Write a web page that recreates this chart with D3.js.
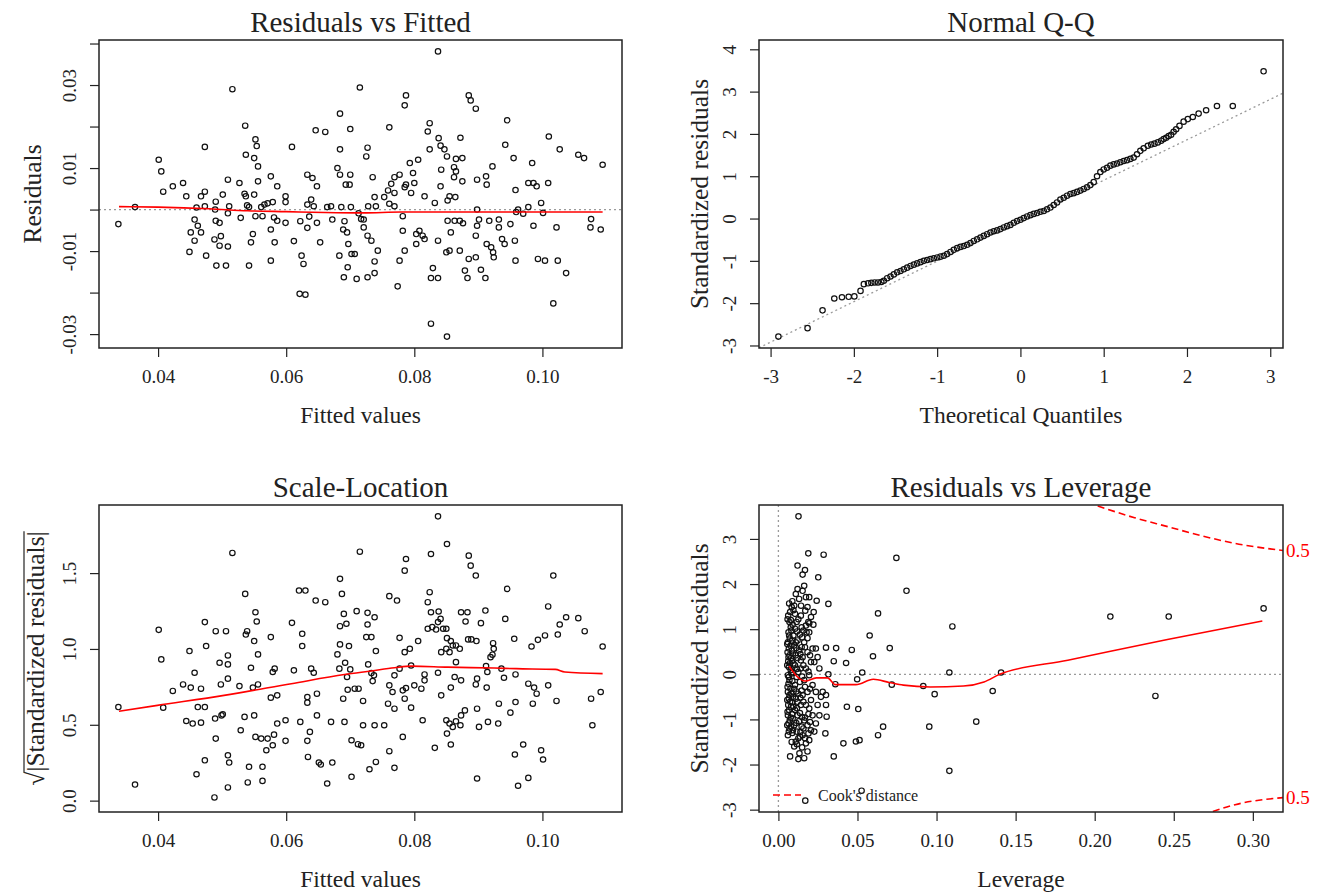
<!DOCTYPE html>
<html>
<head>
<meta charset="utf-8">
<script src="https://cdn.jsdelivr.net/npm/d3@7"></script>
<style>
  body { margin: 0; background: #fff; overflow: hidden; }
  svg { font-family: "Liberation Serif", "Times New Roman", serif; }
</style>
</head>
<body>
<div id="chart"></div>
<script>
// ---- data ----

// Residuals vs Fitted: [fitted value, residual]
var residVsFitted = [
  [0.0338,-0.0035],[0.0364,0.0006],[0.0401,0.0120],[0.0405,0.0092],[0.0408,0.0043],[0.0423,0.0056],[0.0439,0.0064],[0.0444,0.0032],
  [0.0449,-0.0102],[0.0451,-0.0055],[0.0457,-0.0024],[0.0457,-0.0075],[0.0462,-0.0039],[0.0467,-0.0055],[0.0460,0.0005],[0.0467,0.0032],
  [0.0473,0.0043],[0.0473,0.0151],[0.0473,0.0008],[0.0475,-0.0111],[0.0488,-0.0072],[0.0490,0.0019],[0.0489,0.0000],[0.0490,-0.0027],
  [0.0496,-0.0032],[0.0491,-0.0135],[0.0496,-0.0087],[0.0498,-0.0064],[0.0501,0.0036],[0.0506,-0.0135],[0.0509,0.0072],[0.0509,-0.0089],
  [0.0509,-0.0009],[0.0511,0.0008],[0.0516,0.0290],[0.0527,0.0064],[0.0529,-0.0020],[0.0535,0.0038],[0.0537,0.0032],[0.0536,0.0202],
  [0.0537,0.0132],[0.0539,0.0010],[0.0542,0.0006],[0.0542,-0.0135],[0.0545,-0.0079],[0.0548,-0.0059],[0.0550,0.0124],[0.0550,0.0036],
  [0.0552,0.0169],[0.0554,0.0153],[0.0556,0.0104],[0.0556,0.0068],[0.0552,-0.0016],[0.0561,0.0006],[0.0563,-0.0016],[0.0566,0.0012],
  [0.0571,0.0015],[0.0576,0.0080],[0.0576,-0.0048],[0.0576,-0.0123],[0.0579,0.0018],[0.0581,-0.0019],[0.0582,-0.0079],[0.0586,0.0056],
  [0.0586,-0.0027],[0.0599,0.0032],[0.0599,0.0018],[0.0599,-0.0032],[0.0609,0.0151],[0.0612,-0.0076],[0.0622,-0.0028],[0.0621,-0.0203],
  [0.0624,-0.0111],[0.0627,-0.0131],[0.0630,-0.0205],[0.0633,-0.0044],[0.0633,0.0084],[0.0633,0.0012],[0.0636,-0.0017],[0.0641,0.0076],
  [0.0639,0.0024],[0.0643,0.0008],[0.0648,0.0056],[0.0648,-0.0032],[0.0653,-0.0079],[0.0646,0.0191],[0.0661,0.0187],[0.0664,0.0006],
  [0.0670,0.0008],[0.0672,-0.0024],[0.0680,0.0100],[0.0684,0.0084],[0.0684,0.0231],[0.0684,0.0145],[0.0683,-0.0111],[0.0686,0.0006],
  [0.0689,-0.0048],[0.0690,-0.0163],[0.0691,-0.0028],[0.0693,0.0060],[0.0695,-0.0055],[0.0696,-0.0139],[0.0699,0.0060],[0.0700,0.0084],
  [0.0700,0.0194],[0.0701,0.0006],[0.0702,-0.0107],[0.0707,-0.0107],[0.0710,-0.0167],[0.0715,0.0294],[0.0713,-0.0009],[0.0717,-0.0023],
  [0.0697,-0.0083],
  [0.0727,0.0149],[0.0725,0.0128],[0.0735,0.0078],[0.0721,-0.0024],[0.0721,-0.0043],[0.0728,0.0008],[0.0738,0.0030],[0.0740,0.0008],
  [0.0727,-0.0063],[0.0733,-0.0075],[0.0743,-0.0099],[0.0738,-0.0125],[0.0738,-0.0153],[0.0727,-0.0163],[0.0761,0.0198],[0.0753,0.0030],
  [0.0759,0.0046],[0.0764,0.0062],[0.0769,0.0078],[0.0761,0.0014],[0.0769,0.0008],[0.0777,0.0084],[0.0769,0.0040],[0.0782,-0.0016],
  [0.0782,-0.0051],[0.0785,-0.0099],[0.0777,-0.0123],[0.0774,-0.0185],[0.0785,0.0251],[0.0787,0.0275],[0.0785,0.0054],[0.0787,0.0060],
  [0.0793,0.0112],[0.0795,0.0040],[0.0798,0.0088],[0.0800,0.0064],[0.0806,0.0120],[0.0803,-0.0059],[0.0803,-0.0083],[0.0808,-0.0051],
  [0.0813,-0.0063],[0.0816,-0.0071],[0.0816,0.0032],[0.0821,0.0188],[0.0824,0.0208],[0.0824,0.0145],[0.0826,-0.0275],[0.0829,-0.0141],
  [0.0826,-0.0165],[0.0837,-0.0165],[0.0832,0.0016],[0.0837,-0.0075],[0.0838,0.0172],[0.0841,0.0154],[0.0842,0.0096],[0.0841,0.0056],
  [0.0847,0.0145],[0.0851,0.0128],[0.0852,0.0022],[0.0855,0.0032],[0.0851,-0.0306],[0.0850,-0.0103],[0.0855,-0.0099],[0.0857,-0.0055],
  [0.0862,0.0102],[0.0862,0.0078],[0.0865,0.0122],[0.0865,0.0092],[0.0864,0.0030],[0.0871,-0.0099],[0.0872,0.0173],[0.0875,0.0124],
  [0.0875,0.0068],[0.0852,-0.0027],[0.0863,-0.0027],[0.0871,-0.0027],[0.0876,-0.0033],[0.0879,-0.0147],[0.0883,-0.0165],[0.0885,-0.0119],
  [0.0885,0.0275],[0.0888,0.0263],[0.0896,0.0243],[0.0896,-0.0115],[0.0896,-0.0063],[0.0898,0.0072],[0.0898,0.0000],[0.0901,-0.0024],
  [0.0898,-0.0039],[0.0904,-0.0145],[0.0911,-0.0165],[0.0912,0.0080],[0.0913,0.0060],[0.0917,-0.0027],[0.0913,-0.0083],[0.0920,-0.0091],
  [0.0923,-0.0103],[0.0924,-0.0115],[0.0922,0.0104],[0.0932,-0.0024],[0.0932,-0.0043],[0.0937,-0.0071],[0.0941,-0.0083],[0.0942,0.0156],
  [0.0945,0.0215],[0.0950,-0.0035],[0.0955,0.0124],[0.0958,0.0047],[0.0957,-0.0075],[0.0958,-0.0123],[0.0959,-0.0006],[0.0962,0.0000],
  [0.0970,-0.0010],[0.0978,0.0064],[0.0978,0.0006],[0.0984,0.0112],[0.0986,0.0064],[0.0991,0.0056],[0.0986,-0.0039],[0.0993,-0.0119],
  [0.1004,-0.0123],[0.0998,0.0016],[0.1001,-0.0008],[0.1009,0.0064],[0.1010,0.0176],[0.1017,-0.0226],[0.1022,-0.0043],[0.1024,-0.0123],
  [0.1027,0.0145],[0.1037,-0.0153],[0.1056,0.0132],[0.1065,0.0124],[0.1076,-0.0023],[0.1075,-0.0043],[0.1091,-0.0048],[0.1094,0.0108],
  [0.0837,0.0381]
];
var residSmoothX = [0.0339,0.040,0.048,0.054,0.060,0.066,0.072,0.078,0.085,0.095,0.1094];
var residSmoothY = [0.0007,0.0006,0.0002,-0.0003,-0.0005,-0.0007,-0.0008,-0.0006,-0.0006,-0.0006,-0.0006];

// Normal Q-Q: theoretical quantile / standardized residual
var qqTheo = [-2.906,-2.556,-2.376,-2.235,-2.143,-2.062,-1.994,-1.920,-1.880,-1.830,-1.790,-1.750,-1.710,-1.670,-1.640,
  -1.60,-1.56,-1.52,-1.48,-1.44,-1.40,-1.36,-1.32,-1.28,-1.24,-1.20,-1.16,-1.12,-1.08,-1.04,-1.00,-0.96,-0.92,-0.88,-0.84,
  -0.80,-0.76,-0.72,-0.68,-0.64,-0.60,-0.56,-0.52,-0.48,-0.44,-0.40,-0.36,-0.32,-0.28,-0.24,-0.20,-0.16,-0.12,-0.08,-0.04,
  0.00,0.04,0.08,0.12,0.16,0.20,0.24,0.28,0.32,0.36,0.40,0.44,0.48,0.52,0.56,0.60,0.64,0.68,0.72,0.76,0.80,0.84,0.88,0.92,
  0.96,1.00,1.04,1.08,1.12,1.16,1.20,1.24,1.28,1.32,1.36,1.40,1.44,1.48,1.53,1.57,1.61,1.65,1.69,1.72,1.75,1.78,1.81,1.84,
  1.87,1.91,1.96,2.01,2.07,2.14,2.23,2.36,2.55,2.92];
var qqStd = [-2.79,-2.59,-2.17,-1.89,-1.86,-1.85,-1.84,-1.71,-1.55,-1.53,-1.52,-1.51,-1.51,-1.50,-1.47,
  -1.41,-1.37,-1.32,-1.27,-1.24,-1.20,-1.16,-1.12,-1.09,-1.06,-1.03,-1.00,-0.98,-0.96,-0.94,-0.92,-0.90,-0.88,-0.84,-0.79,
  -0.74,-0.70,-0.67,-0.65,-0.62,-0.58,-0.53,-0.49,-0.45,-0.41,-0.37,-0.33,-0.30,-0.28,-0.25,-0.21,-0.18,-0.15,-0.10,-0.06,
  -0.03,0.01,0.05,0.08,0.11,0.13,0.16,0.18,0.22,0.26,0.32,0.38,0.45,0.49,0.54,0.58,0.60,0.63,0.66,0.70,0.74,0.79,0.86,1.00,
  1.10,1.16,1.20,1.25,1.28,1.30,1.33,1.36,1.38,1.41,1.44,1.52,1.60,1.66,1.72,1.75,1.77,1.80,1.84,1.88,1.91,1.95,1.98,2.05,
  2.11,2.19,2.29,2.35,2.40,2.48,2.56,2.66,2.66,3.48];
var qqLineX = [-3.14, 3.17];
var qqLineY = [-3.055, 2.98];

// Scale-Location: [fitted value, sqrt(|standardized residual|)]
var scaleLocation = [
  [0.0338,0.617],[0.0364,0.106],[0.0401,1.126],[0.0405,0.931],[0.0408,0.613],[0.0423,0.723],[0.0439,0.766],[0.0449,0.986],[0.0444,0.525],
  [0.0451,0.745],[0.0457,0.843],[0.0454,0.508],[0.0460,0.174],[0.0462,0.617],[0.0467,0.514],[0.0467,0.738],[0.0473,1.177],[0.0473,0.266],
  [0.0475,1.019],[0.0473,0.617],[0.0488,0.021],[0.0490,1.117],[0.0489,0.541],[0.0490,0.409],[0.0496,0.909],[0.0498,0.766],[0.0499,0.562],
  [0.0501,0.569],[0.0506,1.117],[0.0509,0.957],[0.0509,0.898],[0.0509,0.804],[0.0509,0.299],[0.0511,0.251],[0.0509,0.087],[0.0516,1.633],
  [0.0527,0.755],[0.0529,0.464],[0.0535,0.552],[0.0536,1.363],[0.0537,1.095],[0.0539,1.117],[0.0542,0.223],[0.0540,0.120],[0.0545,0.876],
  [0.0548,0.745],[0.0550,0.562],[0.0550,1.052],[0.0552,1.242],[0.0554,1.181],[0.0556,0.964],[0.0556,0.766],[0.0552,0.420],[0.0561,0.409],
  [0.0563,0.223],[0.0563,0.130],[0.0569,0.332],[0.0571,0.409],[0.0576,0.679],[0.0576,1.078],[0.0579,0.848],[0.0582,0.870],[0.0579,0.365],
  [0.0581,0.435],[0.0586,0.694],[0.0586,0.508],[0.0599,0.530],[0.0599,0.394],[0.0609,1.172],[0.0612,0.859],[0.0622,0.519],[0.0625,1.100],
  [0.0625,1.019],[0.0620,1.385],[0.0630,1.385],[0.0633,0.683],[0.0633,0.646],[0.0633,0.394],[0.0634,0.288],[0.0637,0.453],[0.0639,0.870],
  [0.0643,0.843],[0.0648,0.705],[0.0648,0.562],[0.0646,1.319],[0.0661,1.308],[0.0651,0.251],[0.0654,0.238],[0.0664,0.113],[0.0670,0.519],
  [0.0672,0.251],[0.0680,0.964],[0.0684,1.030],[0.0684,1.462],[0.0684,1.150],[0.0683,0.870],[0.0687,1.363],[0.0690,1.231],[0.0689,0.672],
  [0.0691,0.519],[0.0692,0.909],[0.0694,1.166],[0.0695,0.815],[0.0698,1.019],[0.0696,0.731],[0.0700,0.865],[0.0702,0.398],[0.0702,0.157],
  [0.0707,0.738],[0.0710,1.249],[0.0712,0.372],[0.0715,1.641],[0.0713,0.738],
  [0.0727,1.238],[0.0727,1.161],[0.0738,1.209],[0.0725,1.078],[0.0733,1.078],[0.0728,0.898],[0.0740,0.986],[0.0733,0.841],[0.0737,0.826],
  [0.0735,0.788],[0.0720,0.657],[0.0720,0.497],[0.0738,0.497],[0.0753,0.497],[0.0717,0.365],[0.0730,0.207],[0.0740,0.255],[0.0761,1.348],
  [0.0773,1.319],[0.0785,1.516],[0.0787,1.593],[0.0777,1.073],[0.0785,0.979],[0.0793,1.001],[0.0769,0.826],[0.0777,0.870],[0.0795,0.891],
  [0.0806,1.052],[0.0761,0.760],[0.0766,0.716],[0.0782,0.727],[0.0785,0.672],[0.0787,0.742],[0.0800,0.760],[0.0811,0.738],[0.0759,0.639],
  [0.0769,0.606],[0.0795,0.613],[0.0782,0.420],[0.0761,0.326],[0.0769,0.216],[0.0816,0.832],[0.0816,0.793],[0.0813,0.530],[0.0821,1.308],
  [0.0824,1.374],[0.0826,1.626],[0.0821,1.133],[0.0826,1.242],[0.0828,1.144],[0.0834,1.128],[0.0838,1.247],[0.0837,1.177],[0.0841,1.198],
  [0.0845,1.133],[0.0842,0.979],[0.0850,1.133],[0.0851,1.071],[0.0837,0.843],[0.0842,0.694],[0.0832,0.348],[0.0851,1.692],[0.0850,1.001],
  [0.0855,0.979],[0.0857,1.052],[0.0860,1.023],[0.0865,1.023],[0.0871,1.001],[0.0865,0.913],[0.0863,0.815],[0.0873,0.793],[0.0857,0.745],
  [0.0850,0.530],[0.0855,0.508],[0.0860,0.486],[0.0865,0.523],[0.0873,0.562],[0.0879,0.595],[0.0872,0.497],[0.0851,0.442],[0.0857,0.370],
  [0.0873,1.242],[0.0883,1.242],[0.0880,1.181],[0.0885,1.615],[0.0888,1.549],[0.0896,1.484],[0.0884,1.063],[0.0889,1.063],[0.0897,1.052],
  [0.0898,0.804],[0.0896,0.766],[0.0913,0.745],[0.0898,0.606],[0.0901,0.486],[0.0898,0.146],[0.0912,0.887],[0.0914,0.848],[0.0911,1.253],
  [0.0904,1.170],[0.0915,0.519],[0.0931,0.508],[0.0932,0.639],[0.0919,0.946],[0.0924,1.001],[0.0923,1.038],[0.0922,0.962],[0.0936,0.870],
  [0.0940,0.810],[0.0942,1.198],[0.0945,1.396],[0.0956,1.067],[0.0958,0.832],[0.0958,0.650],[0.0950,0.580],[0.0957,0.304],[0.0962,0.098],
  [0.0970,0.370],[0.0978,0.150],[0.0983,1.016],[0.0993,1.060],[0.1004,1.089],[0.0978,0.771],[0.0987,0.745],[0.0991,0.705],[0.0985,0.639],
  [0.1009,1.280],[0.1009,0.760],[0.1017,1.484],[0.1022,0.657],[0.1024,1.095],[0.1027,1.161],[0.1037,1.209],[0.1056,1.203],[0.1066,1.117],
  [0.1076,0.672],[0.1078,0.497],[0.1091,0.716],[0.1094,1.016],[0.0998,0.332],[0.1001,0.271],[0.0837,1.874]
];
var scaleSmoothX = [0.0339,0.0399,0.0503,0.0608,0.0691,0.0733,0.0769,0.0795,0.0852,0.0925,0.0959,0.1020,0.1035,0.1094];
var scaleSmoothY = [0.589,0.628,0.694,0.771,0.831,0.855,0.876,0.887,0.880,0.874,0.870,0.865,0.848,0.837];

// Residuals vs Leverage: [leverage, standardized residual]
var residVsLeverage = [
  [0.0127,3.50],[0.0189,2.68],[0.0286,2.65],[0.0121,2.41],[0.0168,2.31],[0.0153,2.21],[0.0252,2.15],[0.0746,2.58],[0.0810,1.85],
  [0.0195,1.71],[0.0242,1.63],[0.0316,1.56],[0.0170,1.41],[0.0223,1.38],[0.0630,1.35],[0.0189,1.16],[0.0221,1.10],[0.1100,1.06],
  [0.0178,0.93],[0.0577,0.86],[0.0301,0.59],[0.0365,0.58],[0.0464,0.54],[0.0704,0.58],[0.0598,0.40],[0.0350,0.29],[0.0428,0.25],
  [0.0316,0.00],[0.0530,0.04],[0.0498,-0.11],[0.0717,-0.23],[0.0916,-0.26],[0.0988,-0.44],[0.1081,0.04],[0.1408,0.04],[0.1355,-0.37],
  [0.0360,-0.22],[0.0301,-0.68],[0.0301,-0.46],[0.0280,-0.39],[0.0305,-0.94],[0.0433,-0.72],[0.0505,-0.77],[0.0297,-1.31],[0.0350,-1.82],
  [0.0411,-1.53],[0.0490,-1.49],[0.0513,-1.46],[0.0630,-1.35],[0.0662,-1.16],[0.0954,-1.16],[0.1251,-1.05],[0.1081,-2.14],[0.0170,-2.80],
  [0.0526,-2.58],[0.2099,1.28],[0.2468,1.28],[0.3068,1.46],[0.2384,-0.48],
  [0.0068,1.57],[0.0074,1.38],[0.0062,1.30],[0.0070,1.16],[0.0078,1.04],[0.0064,0.93],[0.0072,0.79],[0.0060,0.71],[0.0076,0.63],
  [0.0066,0.57],[0.0058,0.49],[0.0070,0.42],[0.0080,0.36],[0.0062,0.29],[0.0072,0.24],[0.0066,0.16],[0.0078,0.09],[0.0060,-0.02],
  [0.0070,-0.13],[0.0064,-0.21],[0.0076,-0.32],[0.0060,-0.39],[0.0070,-0.46],[0.0066,-0.54],[0.0074,-0.61],[0.0062,-0.68],[0.0068,-0.79],
  [0.0060,-0.91],[0.0072,-1.02],[0.0064,-1.09],[0.0070,-1.20],[0.0066,-1.27],[0.0074,-1.82],
  [0.0121,1.89],[0.0110,1.78],[0.0131,1.67],[0.0100,1.52],[0.0142,1.30],[0.0115,1.16],[0.0105,1.01],[0.0136,0.88],[0.0121,0.75],
  [0.0100,0.64],[0.0131,0.53],[0.0110,0.42],[0.0142,0.31],[0.0105,0.20],[0.0126,0.05],[0.0115,-0.06],[0.0136,-0.17],[0.0100,-0.32],
  [0.0126,-0.43],[0.0110,-0.54],[0.0142,-0.68],[0.0105,-0.79],[0.0121,-0.91],[0.0131,-1.04],[0.0100,-1.13],[0.0115,-1.27],[0.0136,-1.38],
  [0.0110,-1.49],[0.0126,-1.88],
  [0.0163,1.96],[0.0153,1.85],[0.0184,1.49],[0.0206,1.27],[0.0174,1.08],[0.0195,0.93],[0.0163,0.71],[0.0216,0.57],[0.0184,0.49],
  [0.0153,0.38],[0.0206,0.27],[0.0174,0.13],[0.0195,-0.02],[0.0163,-0.13],[0.0216,-0.24],[0.0184,-0.39],[0.0153,-0.46],[0.0206,-0.57],
  [0.0174,-0.68],[0.0195,-0.76],[0.0216,-0.91],[0.0163,-1.02],[0.0184,-1.13],[0.0206,-1.24],[0.0153,-1.35],[0.0195,-1.46],[0.0174,-1.53],
  [0.0184,-1.71],[0.0163,-1.86],
  [0.0237,0.57],[0.0248,0.38],[0.0227,0.27],[0.0259,0.13],[0.0237,-0.39],[0.0269,-0.50],[0.0248,-0.68],[0.0259,-0.91],[0.0237,-1.09],
  [0.0227,-1.27],
  [0.0084,1.49],[0.0058,1.22],[0.0082,0.97],[0.0068,0.86],[0.0056,0.67],[0.0084,0.53],[0.0064,0.38],[0.0056,0.20],[0.0082,0.02],
  [0.0066,-0.06],[0.0058,-0.28],[0.0082,-0.43],[0.0056,-0.57],[0.0080,-0.72],[0.0058,-0.83],[0.0078,-0.96],[0.0056,-1.13],[0.0080,-1.16],
  [0.0060,-1.35],[0.0084,-1.50],
  [0.0095,1.42],[0.0126,1.22],[0.0090,1.10],[0.0147,1.04],[0.0095,0.86],[0.0110,0.71],[0.0147,0.60],[0.0092,0.46],[0.0121,0.36],
  [0.0095,0.24],[0.0140,0.13],[0.0090,0.05],[0.0105,-0.24],[0.0147,-0.36],[0.0092,-0.50],[0.0121,-0.61],[0.0095,-0.72],[0.0136,-0.86],
  [0.0090,-0.98],[0.0147,-1.16],[0.0092,-1.24],[0.0126,-1.42],[0.0100,-1.60],
  [0.0174,1.71],[0.0195,1.13],[0.0158,0.97],[0.0184,0.80],[0.0168,0.60],[0.0200,0.42],[0.0158,0.20],[0.0190,0.06],[0.0168,-0.28],
  [0.0200,-0.32],[0.0158,-0.61],[0.0190,-0.88],[0.0168,-0.96],[0.0200,-1.06],[0.0158,-1.20],[0.0190,-1.31],[0.0168,-1.42],
  [0.0088,1.62],[0.0105,1.34],[0.0079,1.20],[0.0118,0.95],[0.0087,0.74],[0.0113,0.58],[0.0086,0.30],[0.0117,0.12],[0.0088,-0.15],
  [0.0113,-0.38],[0.0087,-0.62],[0.0117,-0.75],[0.0086,-0.88],[0.0113,-1.08],[0.0088,-1.30],[0.0117,-1.55],[0.0143,1.52],[0.0150,0.82],
  [0.0139,0.45],[0.0150,-0.05],[0.0139,-0.52],[0.0150,-0.95],[0.0139,-1.28],[0.0150,-1.62],[0.0133,-1.75]
];
var levSmoothX = [0.0068,0.011,0.017,0.024,0.031,0.036,0.049,0.060,0.070,0.079,0.096,0.117,0.130,0.140,0.183,0.210,0.246,0.306];
var levSmoothY = [0.18,-0.02,-0.15,-0.08,-0.08,-0.23,-0.23,-0.11,-0.18,-0.24,-0.28,-0.26,-0.17,0.00,0.31,0.51,0.77,1.18];
// Cook's distance 0.5 contours
var cookUpperX = [0.2019,0.2252,0.2464,0.2676,0.2888,0.3202];
var cookUpperY = [3.73,3.47,3.27,3.07,2.90,2.74];
var cookLowerX = [0.2747,0.2888,0.3202];
var cookLowerY = [-3.04,-2.89,-2.73];
var cookLevel = "0.5";

// ---- drawing ----
var svg = d3.select("#chart").append("svg")
    .attr("width", 1320)
    .attr("height", 893);

var ink = "#222";

// R style: data range stretched by 4% each side
function rRange(lo, hi) {
    var d = (hi - lo) * 0.04;
    return [lo - d, hi + d];
}

function zip(xs, ys) {
    return xs.map(function(v, i) { return [v, ys[i]]; });
}

var clipId = 0;

function panel(p) {
    var g = svg.append("g");
    var x = d3.scaleLinear().domain(p.xDomain).range([p.left, p.right]);
    var y = d3.scaleLinear().domain(p.yDomain).range([p.bottom, p.top]);

    clipId++;
    svg.append("clipPath").attr("id", "clip" + clipId)
        .append("rect")
        .attr("x", p.left).attr("y", p.top)
        .attr("width", p.right - p.left).attr("height", p.bottom - p.top);
    var inner = g.append("g").attr("clip-path", "url(#clip" + clipId + ")");

    // x axis
    var xa = g.append("g")
        .attr("transform", "translate(0," + p.bottom + ")")
        .call(d3.axisBottom(x).tickValues(p.xTicks).tickSize(9).tickFormat(p.xFormat));
    xa.select(".domain").remove();
    xa.selectAll("line").attr("stroke", ink).attr("stroke-width", 1.2);
    xa.selectAll("text")
        .attr("y", 28).attr("dy", "0.35em")
        .attr("fill", ink)
        .style("font-family", "Liberation Serif, serif")
        .style("font-size", "19px");

    // y axis, labels turned like R's las = 0
    var ya = g.append("g")
        .attr("transform", "translate(" + p.left + ",0)")
        .call(d3.axisLeft(y).tickValues(p.yTicks).tickSize(9).tickFormat(p.yFormat));
    ya.select(".domain").remove();
    ya.selectAll("line").attr("stroke", ink).attr("stroke-width", 1.2);
    ya.selectAll("text")
        .attr("x", null).attr("dy", "0.35em")
        .attr("text-anchor", "middle")
        .attr("transform", "translate(-30,0) rotate(-90)")
        .attr("fill", ink)
        .style("font-family", "Liberation Serif, serif")
        .style("font-size", "19px");

    // titles
    g.append("text")
        .attr("x", (p.left + p.right) / 2).attr("y", p.top - 18)
        .attr("dy", "0.35em").attr("text-anchor", "middle")
        .style("font-size", "29px").attr("fill", ink)
        .text(p.title);
    g.append("text")
        .attr("x", (p.left + p.right) / 2).attr("y", p.bottom + 67)
        .attr("dy", "0.35em").attr("text-anchor", "middle")
        .style("font-size", "23.5px").attr("fill", ink)
        .text(p.xTitle);
    var yt = g.append("text")
        .attr("transform", "translate(" + (p.left - p.yTitleOffset) + "," + ((p.top + p.bottom) / 2) + ") rotate(-90)")
        .attr("dy", "0.35em").attr("text-anchor", "middle")
        .style("font-size", "25.5px").attr("fill", ink);
    if (p.sqrtTitle) {
        yt.append("tspan").text("\u221A");
        yt.append("tspan").text(p.yTitle);
        var full = yt.node().getComputedTextLength();
        var rootLen = yt.node().getSubStringLength(0, 1);
        g.append("line")
            .attr("transform", "translate(" + (p.left - p.yTitleOffset) + "," + ((p.top + p.bottom) / 2) + ") rotate(-90)")
            .attr("x1", -full / 2 + rootLen - 1).attr("x2", full / 2)
            .attr("y1", -11).attr("y2", -11)
            .attr("stroke", ink).attr("stroke-width", 1.2);
    } else {
        yt.text(p.yTitle);
    }

    // box
    g.append("rect")
        .attr("x", p.left).attr("y", p.top)
        .attr("width", p.right - p.left).attr("height", p.bottom - p.top)
        .attr("fill", "none").attr("stroke", ink).attr("stroke-width", 1.5);

    return { g: g, inner: inner, x: x, y: y };
}

function dotted(layer, pts, x, y) {
    layer.append("path")
        .attr("d", d3.line().x(function(d) { return x(d[0]); }).y(function(d) { return y(d[1]); })(pts))
        .attr("fill", "none").attr("stroke", "#9a9a9a")
        .attr("stroke-width", 1.3).attr("stroke-dasharray", "2,3");
}

function circles(layer, pts, x, y) {
    layer.selectAll("circle.pt").data(pts).enter().append("circle")
        .attr("class", "pt")
        .attr("cx", function(d) { return x(d[0]); })
        .attr("cy", function(d) { return y(d[1]); })
        .attr("r", 2.7)
        .attr("fill", "none").attr("stroke", "#111").attr("stroke-width", 1.2);
}

function smooth(layer, pts, x, y) {
    layer.append("path")
        .attr("d", d3.line().curve(d3.curveMonotoneX)
            .x(function(d) { return x(d[0]); }).y(function(d) { return y(d[1]); })(pts))
        .attr("fill", "none").attr("stroke", "#ff0000").attr("stroke-width", 1.6);
}

var fmt2 = function(v) { return d3.format(".2f")(v).replace("\u2212", "-"); };
var fmtInt = function(v) { return String(v); };

// --- Residuals vs Fitted
var rvX = d3.extent(residVsFitted, function(d) { return d[0]; });
var rvY = d3.extent(residVsFitted, function(d) { return d[1]; });
var p1 = panel({
    left: 99, right: 622, top: 40, bottom: 348,
    xDomain: rRange(rvX[0], rvX[1]), yDomain: rRange(rvY[0], rvY[1]),
    xTicks: [0.04, 0.06, 0.08, 0.10], xFormat: fmt2,
    yTicks: [-0.03, -0.02, -0.01, 0, 0.01, 0.02, 0.03, 0.04],
    yFormat: function(v) { var k = Math.round(v * 100); return (k % 2 !== 0) ? (k < 0 ? "-" : "") + "0.0" + Math.abs(k) : ""; },
    title: "Residuals vs Fitted", xTitle: "Fitted values", yTitle: "Residuals", yTitleOffset: 67
});
dotted(p1.inner, [[p1.x.domain()[0], 0], [p1.x.domain()[1], 0]], p1.x, p1.y);
circles(p1.inner, residVsFitted, p1.x, p1.y);
smooth(p1.inner, zip(residSmoothX, residSmoothY), p1.x, p1.y);

// --- Normal Q-Q
var qX = d3.extent(qqTheo);
var qY = d3.extent(qqStd);
qY[1] = qY[1] + (qY[1] - qY[0]) * 0.075;
var p2 = panel({
    left: 759, right: 1283, top: 40, bottom: 348,
    xDomain: rRange(qX[0], qX[1]), yDomain: rRange(qY[0], qY[1]),
    xTicks: [-3, -2, -1, 0, 1, 2, 3], xFormat: fmtInt,
    yTicks: [-3, -2, -1, 0, 1, 2, 3, 4], yFormat: fmtInt,
    title: "Normal Q-Q", xTitle: "Theoretical Quantiles", yTitle: "Standardized residuals", yTitleOffset: 60
});
dotted(p2.inner, zip(qqLineX, qqLineY), p2.x, p2.y);
circles(p2.inner, zip(qqTheo, qqStd), p2.x, p2.y);

// --- Scale-Location
var slX = d3.extent(scaleLocation, function(d) { return d[0]; });
var slMax = d3.max(scaleLocation, function(d) { return d[1]; });
var p3 = panel({
    left: 99, right: 622, top: 505, bottom: 812,
    xDomain: rRange(slX[0], slX[1]), yDomain: rRange(0, slMax),
    xTicks: [0.04, 0.06, 0.08, 0.10], xFormat: fmt2,
    yTicks: [0, 0.5, 1.0, 1.5], yFormat: function(v) { return d3.format(".1f")(v); },
    title: "Scale-Location", xTitle: "Fitted values", yTitle: "|Standardized residuals|",
    sqrtTitle: true, yTitleOffset: 64
});
circles(p3.inner, scaleLocation, p3.x, p3.y);
smooth(p3.inner, zip(scaleSmoothX, scaleSmoothY), p3.x, p3.y);

// --- Residuals vs Leverage
var lvMax = d3.max(residVsLeverage, function(d) { return d[0]; });
var lvY = d3.extent(residVsLeverage, function(d) { return d[1]; });
var p4 = panel({
    left: 759, right: 1283, top: 505, bottom: 812,
    xDomain: rRange(0, lvMax), yDomain: rRange(lvY[0], lvY[1]),
    xTicks: [0, 0.05, 0.10, 0.15, 0.20, 0.25, 0.30], xFormat: fmt2,
    yTicks: [-3, -2, -1, 0, 1, 2, 3], yFormat: fmtInt,
    title: "Residuals vs Leverage", xTitle: "Leverage", yTitle: "Standardized residuals", yTitleOffset: 60
});
dotted(p4.inner, [[p4.x.domain()[0], 0], [p4.x.domain()[1], 0]], p4.x, p4.y);
dotted(p4.inner, [[0, p4.y.domain()[0]], [0, p4.y.domain()[1]]], p4.x, p4.y);
circles(p4.inner, residVsLeverage, p4.x, p4.y);
smooth(p4.inner, zip(levSmoothX, levSmoothY), p4.x, p4.y);

[zip(cookUpperX, cookUpperY), zip(cookLowerX, cookLowerY)].forEach(function(pts) {
    p4.inner.append("path")
        .attr("d", d3.line().curve(d3.curveMonotoneX)
            .x(function(d) { return p4.x(d[0]); }).y(function(d) { return p4.y(d[1]); })(pts))
        .attr("fill", "none").attr("stroke", "#ff0000")
        .attr("stroke-width", 1.6).attr("stroke-dasharray", "7,4");
    p4.g.append("text")
        .attr("x", 1286).attr("y", p4.y(pts[pts.length - 1][1]))
        .attr("dy", "0.35em")
        .style("font-size", "19px").attr("fill", "#ff0000")
        .text(cookLevel);
});

// legend
p4.g.append("line")
    .attr("x1", 773).attr("x2", 801).attr("y1", 795).attr("y2", 795)
    .attr("stroke", "#ff0000").attr("stroke-width", 1.6).attr("stroke-dasharray", "7,4");
p4.g.append("text")
    .attr("x", 818).attr("y", 795).attr("dy", "0.35em")
    .style("font-size", "16px").attr("fill", ink)
    .text("Cook's distance");
</script>
